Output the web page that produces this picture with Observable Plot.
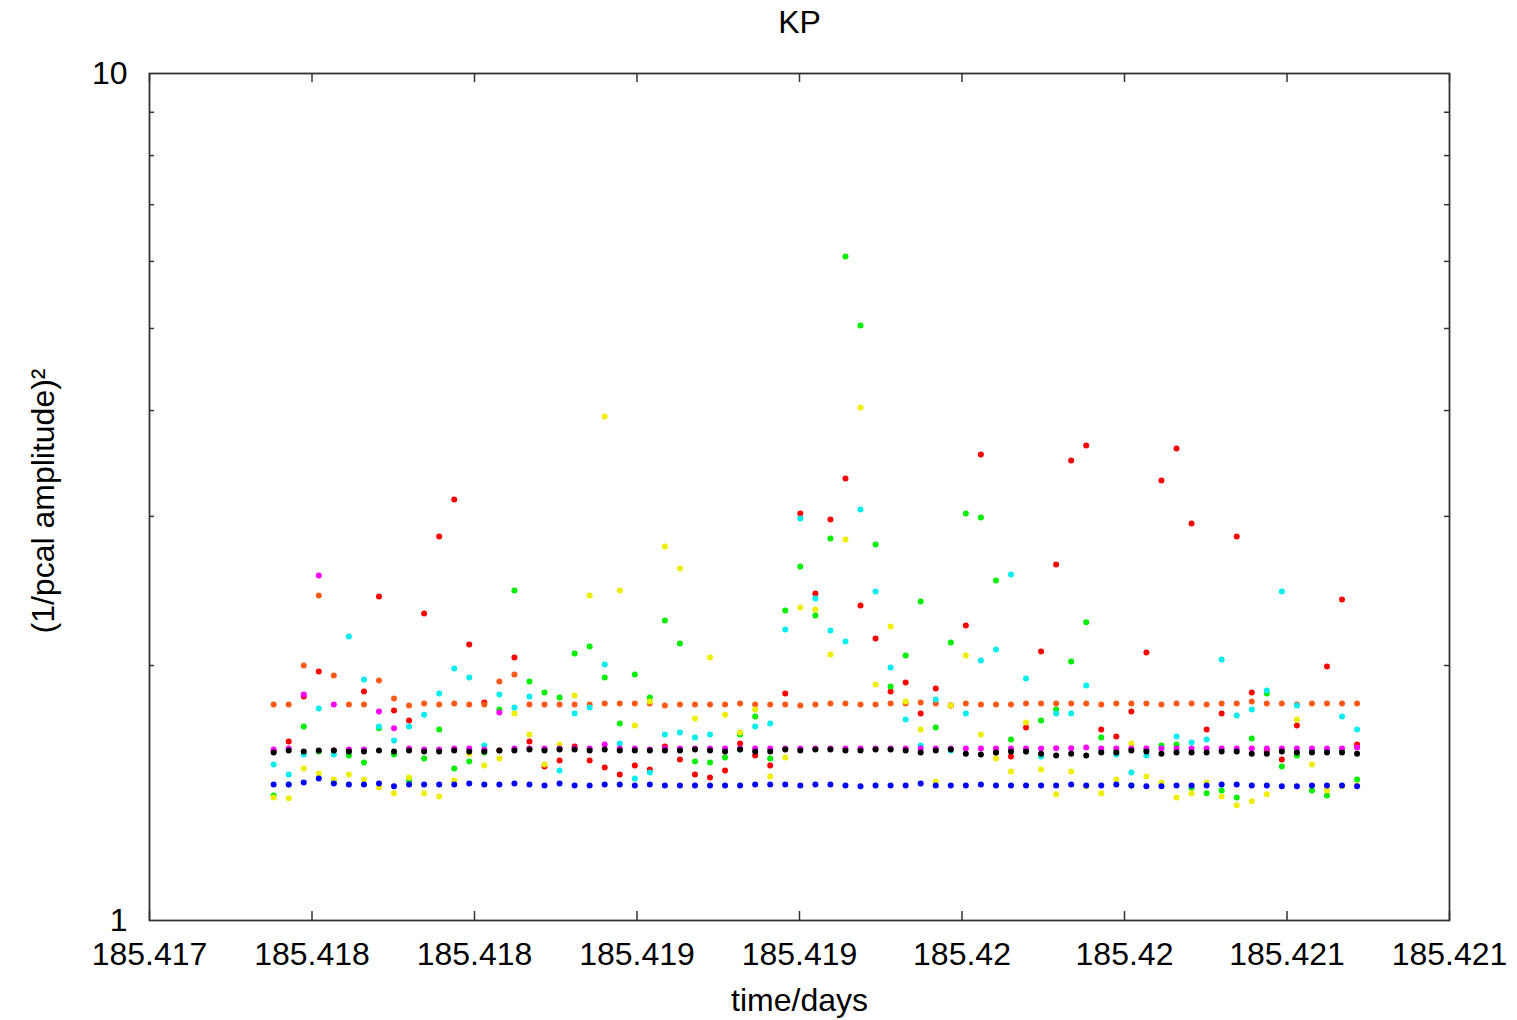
<!DOCTYPE html>
<html><head><meta charset="utf-8">
<script src="https://cdn.jsdelivr.net/npm/d3@7"></script>
<script src="https://cdn.jsdelivr.net/npm/@observablehq/plot@0.6"></script>
<style>body{margin:0;background:#fff}</style>
</head><body><div id="chart"></div>
<script>
const times = [185.417382,185.4174283,185.4174746,185.4175209,185.4175672,185.4176135,185.4176598,185.4177061,185.4177524,185.4177987,
185.417845,185.4178913,185.4179376,185.4179839,185.4180302,185.4180765,185.4181228,185.4181691,185.4182154,185.4182617,
185.418308,185.4183543,185.4184006,185.4184469,185.4184932,185.4185395,185.4185858,185.4186321,185.4186784,185.4187247,
185.418771,185.4188173,185.4188636,185.4189099,185.4189562,185.4190025,185.4190488,185.4190951,185.4191414,185.4191877,
185.419234,185.4192803,185.4193266,185.4193729,185.4194192,185.4194655,185.4195118,185.4195581,185.4196044,185.4196507,
185.419697,185.4197433,185.4197896,185.4198359,185.4198822,185.4199285,185.4199748,185.4200211,185.4200674,185.4201137,
185.42016,185.4202063,185.4202526,185.4202989,185.4203452,185.4203915,185.4204378,185.4204841,185.4205304,185.4205767,
185.420623,185.4206693,185.4207156];

const red = [1.583,1.627,1.839,1.968,1.587,1.587,1.864,2.413,1.770,1.722,
2.304,2.840,3.141,2.118,1.809,1.587,2.044,1.627,1.520,1.545,
1.605,1.545,1.516,1.487,1.524,1.508,1.605,1.549,1.487,1.475,
1.503,1.618,1.566,1.524,1.854,3.024,2.433,2.975,3.325,2.355,
2.152,1.864,1.910,1.755,1.879,1.794,2.230,3.550,1.579,1.562,
1.690,2.078,2.632,3.492,3.638,1.681,1.649,1.765,2.072,3.307,
3.608,2.943,1.681,1.755,2.840,1.859,1.587,1.549,1.699,1.587,
1.995,2.393,1.614];

const green = [1.405,1.447,1.695,1.583,1.455,1.566,1.537,1.686,1.570,1.463,
1.553,1.681,1.512,1.541,1.579,1.775,2.453,1.915,1.859,1.834,
2.067,2.106,1.936,1.708,1.952,1.834,2.261,2.124,1.541,1.537,
1.558,1.658,1.741,1.553,2.323,2.618,2.292,2.825,6.080,5.041,
2.779,1.889,2.055,2.380,1.690,2.129,3.024,2.991,2.520,1.636,
1.583,1.722,1.775,2.022,2.249,1.645,1.587,1.443,1.587,1.609,
1.614,1.436,1.413,1.424,1.397,1.640,1.854,1.520,1.566,1.424,
1.405,1.587,1.467];

const orange = [1.799,1.799,2.000,2.420,1.947,1.799,1.799,1.920,1.829,1.794,
1.804,1.799,1.804,1.799,1.799,1.915,1.952,1.799,1.799,1.799,
1.799,1.799,1.804,1.804,1.804,1.804,1.794,1.799,1.799,1.799,
1.799,1.804,1.799,1.799,1.799,1.794,1.799,1.804,1.804,1.799,
1.799,1.804,1.804,1.809,1.804,1.794,1.804,1.799,1.799,1.799,
1.804,1.804,1.804,1.804,1.804,1.799,1.804,1.804,1.804,1.799,
1.804,1.804,1.799,1.804,1.804,1.814,1.804,1.804,1.799,1.804,
1.804,1.804,1.804];

const yellow = [1.397,1.394,1.512,1.491,1.467,1.487,1.467,1.436,1.413,1.475,
1.413,1.401,1.463,1.574,1.524,1.553,1.755,1.658,1.528,1.614,
1.844,2.420,3.936,2.453,1.699,1.814,2.764,2.604,1.732,2.044,
1.750,1.667,1.775,1.479,1.558,2.342,2.329,2.061,2.817,4.034,
1.899,2.224,1.814,1.681,1.459,1.794,2.055,1.658,1.553,1.499,
1.713,1.508,1.409,1.499,1.440,1.413,1.467,1.618,1.479,1.455,
1.397,1.413,1.455,1.401,1.368,1.383,1.409,1.587,1.727,1.528,
1.424,1.440,1.443];

const cyan = [1.528,1.487,1.570,1.779,1.570,2.164,1.926,1.695,1.631,1.695,
1.750,1.854,1.984,1.936,1.609,1.849,1.784,1.839,1.592,1.503,
1.755,1.784,2.006,1.618,1.471,1.495,1.658,1.667,1.645,1.658,
1.592,1.592,1.695,1.708,2.206,2.983,2.400,2.200,2.135,3.057,
2.446,1.989,1.727,1.609,1.824,1.587,1.755,2.028,2.089,2.562,
1.931,1.562,1.755,1.755,1.894,1.587,1.570,1.495,1.566,1.596,
1.649,1.622,1.636,2.033,1.746,1.775,1.869,2.446,1.794,1.587,
1.587,1.741,1.681];

const magenta = [1.592,1.596,1.849,2.555,1.799,1.592,1.592,1.765,1.686,1.596,
1.592,1.592,1.596,1.596,1.592,1.760,1.596,1.596,1.596,1.596,
1.596,1.596,1.614,1.596,1.596,1.592,1.596,1.596,1.596,1.596,
1.596,1.596,1.596,1.596,1.596,1.596,1.596,1.596,1.596,1.596,
1.596,1.596,1.596,1.596,1.596,1.596,1.596,1.596,1.596,1.596,
1.596,1.596,1.597,1.597,1.600,1.596,1.596,1.596,1.596,1.596,
1.596,1.596,1.596,1.596,1.596,1.596,1.596,1.596,1.596,1.596,
1.596,1.596,1.600];

const black = [1.579,1.587,1.583,1.587,1.587,1.583,1.583,1.587,1.583,1.587,
1.583,1.583,1.587,1.583,1.583,1.587,1.587,1.592,1.587,1.592,
1.592,1.587,1.592,1.587,1.587,1.587,1.587,1.587,1.592,1.587,
1.583,1.592,1.583,1.583,1.592,1.587,1.592,1.592,1.587,1.587,
1.592,1.592,1.587,1.579,1.587,1.592,1.574,1.570,1.579,1.583,
1.583,1.574,1.566,1.574,1.566,1.579,1.579,1.587,1.583,1.574,
1.579,1.579,1.579,1.583,1.583,1.574,1.574,1.583,1.579,1.579,
1.579,1.579,1.574];

const blue = [1.447,1.447,1.455,1.471,1.451,1.447,1.447,1.451,1.440,1.447,
1.447,1.447,1.447,1.451,1.447,1.447,1.451,1.447,1.443,1.451,
1.443,1.443,1.447,1.447,1.443,1.447,1.443,1.443,1.443,1.443,
1.443,1.443,1.447,1.447,1.447,1.443,1.447,1.447,1.443,1.440,
1.443,1.443,1.443,1.451,1.443,1.443,1.443,1.447,1.443,1.443,
1.443,1.443,1.443,1.447,1.443,1.443,1.447,1.443,1.440,1.440,
1.443,1.443,1.443,1.447,1.447,1.443,1.443,1.440,1.440,1.443,
1.443,1.443,1.440];

const seriesNames = ["s1","s2","s3","s4","s5","s6","s7","s8"];
const seriesValues = [red, green, orange, yellow, cyan, magenta, black, blue];
const seriesColors = ["#ff0000","#00ee00","#ff5a1a","#eeee00","#00eeee","#ff00ff","#000000","#0000ff"];

const xTicks = [185.417,185.4175,185.418,185.4185,185.419,185.4195,185.42,185.4205,185.421];
const xTickLabels = ["185.417","185.418","185.418","185.419","185.419","185.42","185.42","185.421","185.421"];
const yTicks = [1,10];
const yTickLabels = ["1","10"];
const yMinorTicks = [2,3,4,5,6,7,8,9];

const rows = [];
seriesNames.forEach((s,k) => seriesValues[k].forEach((v,i) => rows.push({t: times[i], v, s})));

const W = 1517, H = 1020, mt = 73, mb = 100, ml = 149, mr = 68;
const pw = W - ml - mr, ph = H - mt - mb;
const axisColor = "#333";

const chart = Plot.plot({
  width: W, height: H,
  marginTop: mt, marginBottom: mb, marginLeft: ml, marginRight: mr,
  style: {fontFamily: "'Liberation Sans', Arial, sans-serif", fontSize: "32px", background: "#fff", color: "#000"},
  x: {domain: [185.417, 185.421]},
  y: {type: "log", domain: [1, 10]},
  color: {type: "ordinal", domain: seriesNames, range: seriesColors},
  marks: [
    Plot.tickX(xTicks, {x: d => d, insetTop: ph - 9, stroke: axisColor, strokeWidth: 1.5}),
    Plot.tickX(xTicks, {x: d => d, insetBottom: ph - 9, stroke: axisColor, strokeWidth: 1.5}),
    Plot.tickY(yMinorTicks, {y: d => d, insetRight: pw - 5, stroke: axisColor, strokeWidth: 1.5}),
    Plot.tickY(yMinorTicks, {y: d => d, insetLeft: pw - 5, stroke: axisColor, strokeWidth: 1.5}),
    Plot.dot(rows, {x: "t", y: "v", fill: "s", r: 3}),
    Plot.frame({stroke: axisColor, strokeWidth: 1.8}),
    Plot.axisX({ticks: xTicks, tickSize: 0, tickPadding: 22, tickFormat: d => xTickLabels[xTicks.indexOf(d)], fontSize: 32, label: null}),
    Plot.axisY({ticks: yTicks, tickSize: 0, tickPadding: 22, tickFormat: d => yTickLabels[yTicks.indexOf(d)], fontSize: 32, label: null}),
    Plot.text(["KP"], {frameAnchor: "top", lineAnchor: "middle", dy: -51, fontSize: 32}),
    Plot.text(["time/days"], {frameAnchor: "bottom", lineAnchor: "middle", dy: 80, fontSize: 32}),
    Plot.text(["(1/pcal amplitude)²"], {frameAnchor: "left", textAnchor: "middle", lineAnchor: "middle", dx: -106, dy: 4, rotate: -90, fontSize: 32})
  ]
});
document.getElementById("chart").appendChild(chart);
</script>
</body></html>
